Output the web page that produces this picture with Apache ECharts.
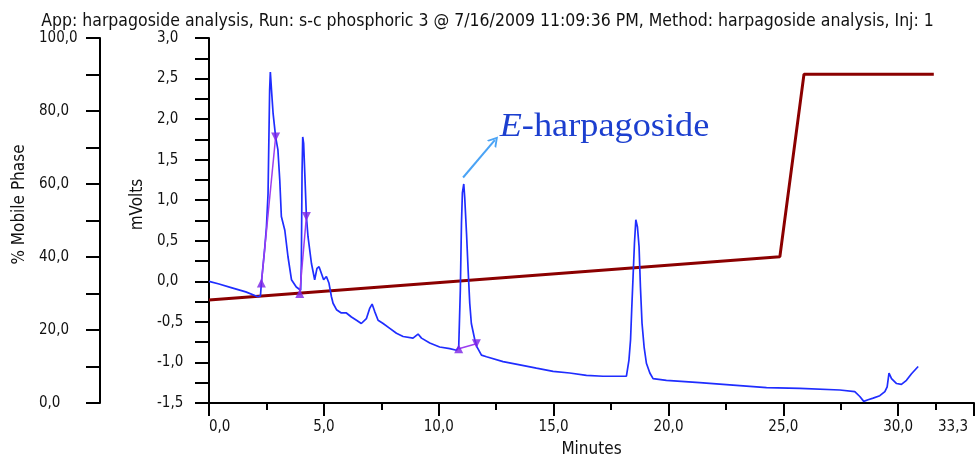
<!DOCTYPE html>
<html>
<head>
<meta charset="utf-8">
<title>harpagoside analysis</title>
<script src="https://cdn.jsdelivr.net/npm/echarts@6/dist/echarts.min.js"></script>
<style>
  html, body { margin: 0; padding: 0; background: #fff; }
  #chart { width: 975px; height: 457px; }
</style>
</head>
<body>
<div id="chart"></div>
<script>
// detector trace (minutes, mV)
const traceTime = [
  0.0, 0.4, 1.0, 1.6, 2.13, 2.24, 2.28, 2.42, 2.5, 2.57, 2.61, 2.64, 2.67, 2.7, 2.72, 2.79, 2.9, 3.0, 3.08, 3.15,
  3.3, 3.44, 3.59, 3.8, 3.99, 4.02, 4.05, 4.08, 4.12, 4.17, 4.24, 4.31, 4.46, 4.6, 4.7, 4.79, 4.89, 4.99, 5.11, 5.22,
  5.33, 5.4, 5.55, 5.76, 5.98, 6.2, 6.42, 6.63, 6.85, 7.0, 7.1, 7.21, 7.36, 7.58, 7.87, 8.16, 8.45, 8.88, 9.1, 9.25,
  9.61, 10.04, 10.48, 10.77, 10.87, 10.94, 10.99, 11.03, 11.09, 11.13, 11.21, 11.28, 11.35, 11.42, 11.57, 11.67, 11.86, 12.08, 12.8, 13.53,
  14.25, 14.98, 15.7, 16.43, 17.15, 17.81, 18.17, 18.28, 18.35, 18.4, 18.46, 18.52, 18.58, 18.65, 18.72, 18.78, 18.85, 18.94, 19.04, 19.19,
  19.33, 19.91, 21.36, 22.81, 24.27, 25.72, 27.46, 28.11, 28.33, 28.5, 28.69, 28.91, 29.2, 29.42, 29.52, 29.6, 29.71, 29.93, 30.14, 30.36,
  30.58, 30.87
];
const traceMv = [
  0.0, -0.03, -0.08, -0.13, -0.19, -0.18, -0.02, 0.39, 0.67, 1.08, 1.82, 2.36, 2.58, 2.45, 2.36, 2.07, 1.78, 1.62, 1.25, 0.8,
  0.63, 0.3, 0.02, -0.07, -0.11, 0.22, 1.33, 1.78, 1.7, 1.33, 0.8, 0.55, 0.22, 0.02, 0.16, 0.18, 0.1, 0.02, 0.06, -0.02,
  -0.19, -0.27, -0.35, -0.39, -0.39, -0.44, -0.48, -0.52, -0.46, -0.33, -0.28, -0.37, -0.48, -0.52, -0.58, -0.64, -0.68, -0.7, -0.65, -0.7,
  -0.76, -0.81, -0.83, -0.85, -0.81, -0.11, 0.72, 1.09, 1.2, 1.04, 0.59, 0.14, -0.27, -0.52, -0.72, -0.81, -0.91, -0.93, -0.99, -1.03,
  -1.07, -1.11, -1.13, -1.16, -1.17, -1.17, -1.17, -0.97, -0.72, -0.35, 0.06, 0.47, 0.76, 0.67, 0.43, -0.07, -0.52, -0.81, -1.01, -1.13,
  -1.2, -1.22, -1.25, -1.28, -1.31, -1.32, -1.34, -1.36, -1.42, -1.48, -1.46, -1.44, -1.41, -1.36, -1.3, -1.13, -1.2, -1.26, -1.27, -1.22,
  -1.14, -1.05
];

// mobile phase gradient (minutes, %)
const gradientTime = [0, 24.85, 25.9, 31.55];
const gradientPct = [28.2, 40.1, 90.1, 90.1];

// integration marks: peak start / end (minutes, mV)
const peakStartTime = [2.28, 3.95, 10.87];
const peakStartMv = [-0.02, -0.15, -0.83];
const peakEndTime = [2.9, 4.24, 11.64];
const peakEndMv = [1.78, 0.8, -0.77];

// annotation
const annotationText = 'E-harpagoside';
const arrowFrom = [11.06, 1.28];
const arrowTo = [12.44, 1.74];
const annotationAt = [12.66, 2.1]; // top-left of the text

// axes ticks
const xMax = 33.3;
const xMajorTicks = [0, 5, 10, 15, 20, 25, 30, 33.3];
const xMinorTicks = [2.5, 7.5, 12.5, 17.5, 22.5, 27.5, 31.65];
const mvTicks = [-1.5, -1.25, -1, -0.75, -0.5, -0.25, 0, 0.25, 0.5, 0.75, 1, 1.25, 1.5, 1.75, 2, 2.25, 2.5, 2.75, 3];
const mvLabels = [-1.5, -1, -0.5, 0, 0.5, 1, 1.5, 2, 2.5, 3];
const pctTicks = [0, 10, 20, 30, 40, 50, 60, 70, 80, 90, 100];
const pctLabels = [0, 20, 40, 60, 80, 100];

const titleText = 'App: harpagoside analysis, Run: s-c phosphoric 3 @ 7/16/2009 11:09:36 PM, Method: harpagoside analysis, Inj: 1';

const FONT = '"DejaVu Sans Condensed", "Liberation Sans Narrow", sans-serif';
const fmt = (v) => Number(v).toFixed(1).replace('.', ',');
const zip = (a, b) => a.map((v, i) => [v, b[i]]);

const axisLine = { show: true, onZero: false, lineStyle: { color: '#000', width: 2 } };
const labelStyle = { color: '#111', fontSize: 15, fontFamily: FONT };
const nameStyle = { color: '#111', fontSize: 17, fontFamily: FONT };

const chart = echarts.init(document.getElementById('chart'));

const peakSeries = peakStartTime.map((t, i) => ({
  type: 'line',
  yAxisIndex: 0,
  data: [[t, peakStartMv[i]], [peakEndTime[i], peakEndMv[i]]],
  symbol: 'none',
  lineStyle: { color: '#9b3df0', width: 1.5 },
  z: 4,
  silent: true
}));

chart.setOption({
  animation: false,
  title: {
    text: titleText,
    left: 'center',
    top: 7,
    textStyle: { fontSize: 17.5, fontWeight: 'normal', color: '#111', fontFamily: FONT }
  },
  grid: { left: 209, right: 1, top: 38, bottom: 54, outerBoundsMode: 'none', containLabel: false },
  xAxis: [
    {
      type: 'value', min: 0, max: xMax, position: 'bottom',
      name: 'Minutes', nameLocation: 'middle', nameGap: 38,
      nameTextStyle: nameStyle,
      axisLine,
      axisTick: { customValues: xMajorTicks, length: 13, lineStyle: { color: '#000', width: 2 } },
      axisLabel: Object.assign({
        customValues: xMajorTicks,
        formatter: (v) => (v === xMax ? '{end|' + fmt(v) + '}' : fmt(v)),
        rich: { end: { padding: [0, 6, 0, 0], fontSize: 15, fontFamily: FONT, color: '#111' } },
        margin: 17,
        alignMinLabel: 'left', alignMaxLabel: 'right'
      }, labelStyle),
      splitLine: { show: false }
    },
    {
      type: 'value', min: 0, max: xMax, position: 'bottom',
      axisLine: { show: false, onZero: false },
      axisTick: { customValues: xMinorTicks, length: 7, lineStyle: { color: '#000', width: 2 } },
      axisLabel: { show: false },
      splitLine: { show: false }
    }
  ],
  yAxis: [
    {
      type: 'value', min: -1.5, max: 3, position: 'left',
      name: 'mVolts', nameLocation: 'middle', nameGap: 54,
      nameTextStyle: Object.assign({ padding: [0, 0, 0, 32] }, nameStyle),
      axisLine,
      axisTick: { customValues: mvTicks, length: 14, lineStyle: { color: '#000', width: 2 } },
      axisLabel: Object.assign({ customValues: mvLabels, formatter: fmt, margin: 52, align: 'left' }, labelStyle),
      splitLine: { show: false }
    },
    {
      type: 'value', min: 0, max: 100, position: 'left', offset: 109,
      name: '% Mobile Phase', nameLocation: 'middle', nameGap: 71,
      nameTextStyle: Object.assign({ padding: [0, 0, 0, 32] }, nameStyle),
      axisLine,
      axisTick: { customValues: pctTicks, length: 14, lineStyle: { color: '#000', width: 2 } },
      axisLabel: Object.assign({ customValues: pctLabels, formatter: fmt, margin: 61, align: 'left' }, labelStyle),
      splitLine: { show: false }
    }
  ],
  series: [
    {
      name: 'gradient',
      type: 'line',
      yAxisIndex: 1,
      data: zip(gradientTime, gradientPct),
      symbol: 'none',
      lineStyle: { color: '#8b0000', width: 3 },
      z: 2,
      silent: true
    },
    {
      name: 'trace',
      type: 'line',
      yAxisIndex: 0,
      data: zip(traceTime, traceMv),
      symbol: 'none',
      lineStyle: { color: '#1f2dff', width: 1.7 },
      z: 3,
      silent: true,
      markLine: {
        silent: true,
        symbol: ['none', 'path://M0,10 L5,0 L10,10 L8.2,10 L5,3.6 L1.8,10 Z'],
        symbolSize: [12, 10],
        label: { show: false },
        lineStyle: { color: '#4aa3f5', width: 2, type: 'solid' },
        data: [[{ coord: arrowFrom }, { coord: arrowTo }]]
      }
    },
    ...peakSeries,
    {
      type: 'scatter',
      yAxisIndex: 0,
      data: zip(peakStartTime, peakStartMv),
      symbol: 'triangle',
      symbolSize: 9,
      itemStyle: { color: '#7a22e6' },
      z: 5,
      silent: true
    },
    {
      type: 'scatter',
      yAxisIndex: 0,
      data: zip(peakEndTime, peakEndMv),
      symbol: 'triangle',
      symbolRotate: 180,
      symbolSize: 9,
      itemStyle: { color: '#7a22e6' },
      z: 5,
      silent: true
    }
  ]
});

// annotation text, anchored at its top-left and stretched a little like the source
const at = chart.convertToPixel({ xAxisIndex: 0, yAxisIndex: 0 }, annotationAt);
const serif = '"Liberation Serif", "DejaVu Serif", serif';
chart.setOption({
  graphic: [{
    type: 'group',
    x: at[0],
    y: at[1],
    scaleX: 1.1,
    children: [
      {
        type: 'text',
        x: 0, y: 0,
        style: {
          text: annotationText.slice(0, 1),
          fill: '#1c3fcf',
          font: 'italic 33px ' + serif,
          verticalAlign: 'top'
        }
      },
      {
        type: 'text',
        x: 20, y: 0,
        style: {
          text: annotationText.slice(1),
          fill: '#1c3fcf',
          font: '33px ' + serif,
          verticalAlign: 'top'
        }
      }
    ]
  }]
});

window.addEventListener('resize', () => chart.resize());
</script>
</body>
</html>
